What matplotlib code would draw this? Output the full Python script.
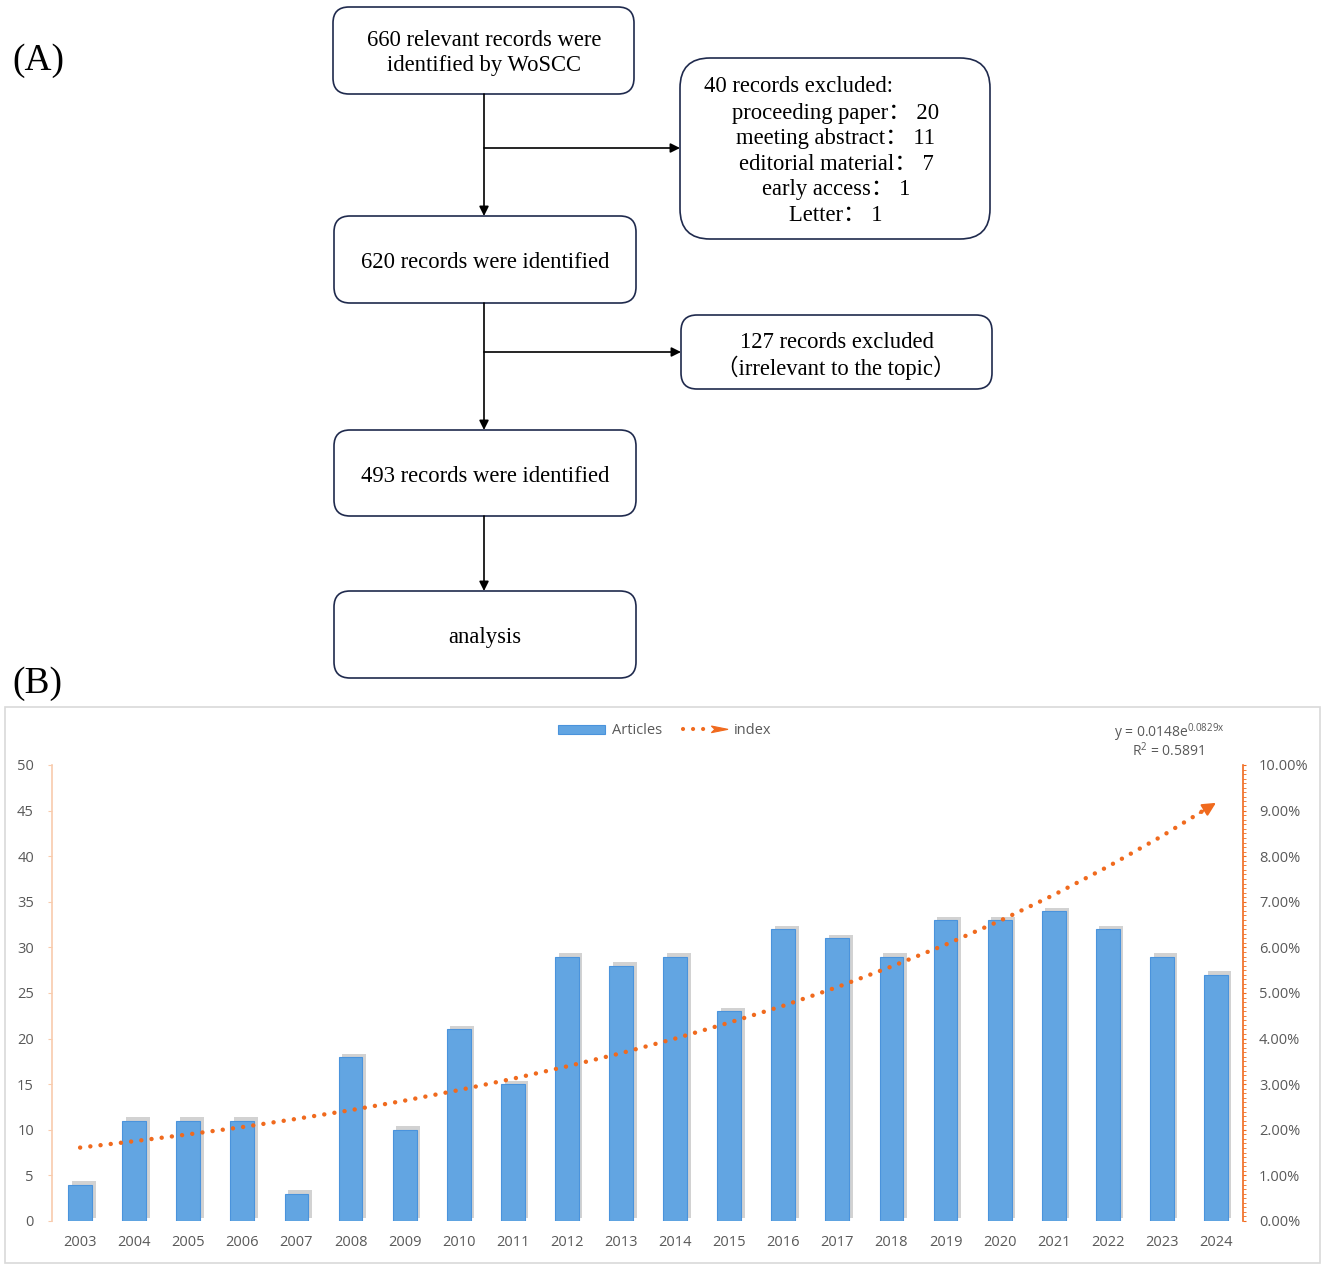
import numpy as np
import matplotlib
matplotlib.use("Agg")
import matplotlib.pyplot as plt
from matplotlib.patches import FancyBboxPatch, Rectangle, Patch, Polygon
from matplotlib.lines import Line2D
from matplotlib.legend_handler import HandlerBase
from matplotlib.ticker import MultipleLocator, FuncFormatter
import matplotlib.patheffects as pe

years = [str(y) for y in range(2003, 2025)]
articles = [4, 11, 11, 11, 3, 18, 10, 21, 15, 29, 28, 29, 23, 32, 31, 29, 33, 33, 34, 32, 29, 27]
index_trend = [1.61, 1.75, 1.90, 2.06, 2.24, 2.43, 2.64, 2.87, 3.12, 3.39, 3.68,
               4.00, 4.35, 4.72, 5.13, 5.58, 6.06, 6.58, 7.15, 7.77, 8.44, 9.17]
equation = "y = 0.0148e$^{0.0829x}$"
r_squared = "R$^{2}$ = 0.5891"

excluded_1 = ["proceeding paper\uff1a 20", "meeting abstract\uff1a 11", "editorial material\uff1a 7",
              "early access\uff1a 1", "Letter\uff1a 1"]

plt.rcParams['mathtext.default'] = 'regular'
serif = ['Liberation Serif', 'Noto Sans CJK SC']
sans = ['Open Sans', 'DejaVu Sans']
navy = '#1F2A4D'
orange = '#F06A1E'
grey_txt = '#595959'

W, H = 1325, 1267
fig = plt.figure(figsize=(W / 100, H / 100), dpi=100)

# ---- panel A: flowchart, drawn in pixel coordinates ----
fa = fig.add_axes([0, 0, 1, 1])
fa.set_xlim(0, W)
fa.set_ylim(H, 0)
fa.axis('off')


def box(x0, y0, x1, y1, r=16):
    fa.add_patch(FancyBboxPatch((x0, y0), x1 - x0, y1 - y0,
                                boxstyle="round,pad=0,rounding_size=%d" % r,
                                fc='white', ec=navy, lw=1.2))


def arrow(x0, y0, x1, y1):
    fa.annotate('', xy=(x1, y1), xytext=(x0, y0),
                arrowprops=dict(arrowstyle='-|>', color='black', lw=1.2,
                                mutation_scale=14, shrinkA=0, shrinkB=0))


def label(x, y, s, ha='center'):
    fa.text(x, y + 3, s, ha=ha, va='center', fontsize=16.3, family=serif)


box(333, 7, 634, 94)
label(484, 38, "660 relevant records were")
label(484, 63, "identified by WoSCC")

box(680, 58, 990, 239, r=30)
label(704, 84, "40 records excluded:", ha='left')
for i, line in enumerate(excluded_1):
    label(836, 110 + i * 25.5, line)

box(334, 216, 636, 303)
label(485, 260, "620 records were identified")

box(681, 315, 992, 389)
label(837, 340, "127 records excluded")
label(836, 365, "\uff08irrelevant to the topic\uff09")

box(334, 430, 636, 516)
label(485, 474, "493 records were identified")

box(334, 591, 636, 678)
label(485, 635, "analysis")

arrow(484, 94, 484, 216)
arrow(484, 148, 680, 148)
arrow(484, 303, 484, 430)
arrow(484, 352, 681, 352)
arrow(484, 516, 484, 591)

fa.text(12, 61, "(A)", ha='left', va='center', fontsize=27, family=serif)
fa.text(12, 684, "(B)", ha='left', va='center', fontsize=27, family=serif)

# panel B frame
fa.add_patch(Rectangle((5, 707), 1315, 556, fc='none', ec='#D9D9D9', lw=1.2))
fa.text(1169, 733, equation, ha='center', va='center', fontsize=10, color=grey_txt, family=sans)
fa.text(1168, 751, r_squared, ha='center', va='center', fontsize=10, color=grey_txt, family=sans)

# ---- panel B: bar chart ----
ax = fig.add_axes([52 / W, 1 - 1221 / H, (1243 - 52) / W, (1221 - 765) / H])
ax.set_facecolor('none')
x = np.arange(len(years))
bars = ax.bar(x, articles, width=0.44, color='#62A5E2', edgecolor='#4A93DC', lw=0.8, zorder=2)
for b in bars:
    b.set_path_effects([pe.SimplePatchShadow(offset=(2.6, 2.4), shadow_rgbFace='#CDCDCD', alpha=0.9),
                        pe.Normal()])
ax.set_xlim(-0.52, 21.5)
ax.set_ylim(0, 50)
ax.set_yticks(range(0, 51, 5))
ax.set_xticks(x)
ax.set_xticklabels(years, family=sans, fontsize=10.5, color=grey_txt)
for lab in ax.get_yticklabels():
    lab.set_family(sans)
ax.tick_params(axis='x', length=0, pad=10)
ax.tick_params(axis='y', colors='#F8CBAD', labelcolor=grey_txt, labelsize=10.5, length=3, pad=10)
for s in ['top', 'bottom', 'right']:
    ax.spines[s].set_visible(False)
ax.spines['left'].set_color('#F8CBAD')
ax.spines['left'].set_linewidth(1.2)

ax2 = ax.twinx()
ax2.set_ylim(0, 10)
ax2.yaxis.set_major_locator(MultipleLocator(1))
ax2.yaxis.set_minor_locator(MultipleLocator(0.1))
ax2.yaxis.set_major_formatter(FuncFormatter(lambda v, p: "%.2f%%" % v))
ax2.tick_params(axis='y', which='both', colors=orange, labelcolor=grey_txt, labelsize=10.5, length=2.5, pad=9)
for lab in ax2.get_yticklabels():
    lab.set_family(sans)
for s in ['top', 'bottom', 'left']:
    ax2.spines[s].set_visible(False)
ax2.spines['right'].set_color(orange)
ax2.spines['right'].set_linewidth(1.2)

ax2.plot(x, index_trend, color=orange, lw=3.2, linestyle=(0, (0.01, 2.3)),
         dash_capstyle='round', zorder=3)
ax2.annotate('', xy=(x[-1], index_trend[-1]),
             xytext=(x[-1] - 0.3, index_trend[-1] - 0.3 * (index_trend[-1] - index_trend[-2])),
             arrowprops=dict(arrowstyle='-|>', color=orange, lw=1.5, mutation_scale=20,
                             shrinkA=0, shrinkB=0))


class TrendHandler(HandlerBase):
    def create_artists(self, legend, orig_handle, xdescent, ydescent, width, height, fontsize, trans):
        y = height / 2 - ydescent
        x0 = -xdescent
        dots = Line2D([x0 + 1.5, x0 + 17], [y, y], color=orange, lw=3.0,
                      linestyle=(0, (0.01, 2.4)), dash_capstyle='round', transform=trans)
        head = Polygon([[x0 + 22, y - 2.4], [x0 + 34, y], [x0 + 22, y + 2.4], [x0 + 24.5, y]],
                       closed=True, fc=orange, ec=orange, lw=0.8, transform=trans)
        return [dots, head]


h_bar = Patch(fc='#62A5E2', ec='#4A93DC', lw=0.8)
h_trend = Line2D([], [], color=orange)
fig.legend([h_bar, h_trend], ['Articles', 'index'], handler_map={Line2D: TrendHandler()},
           loc='center', bbox_to_anchor=(665 / W, 1 - 731 / H), ncol=2, frameon=False,
           prop={'family': sans, 'size': 10.5}, labelcolor=grey_txt,
           handlelength=3.2, handleheight=0.55, handletextpad=0.45, columnspacing=1.3)

fig.savefig('out.png', dpi=100)
